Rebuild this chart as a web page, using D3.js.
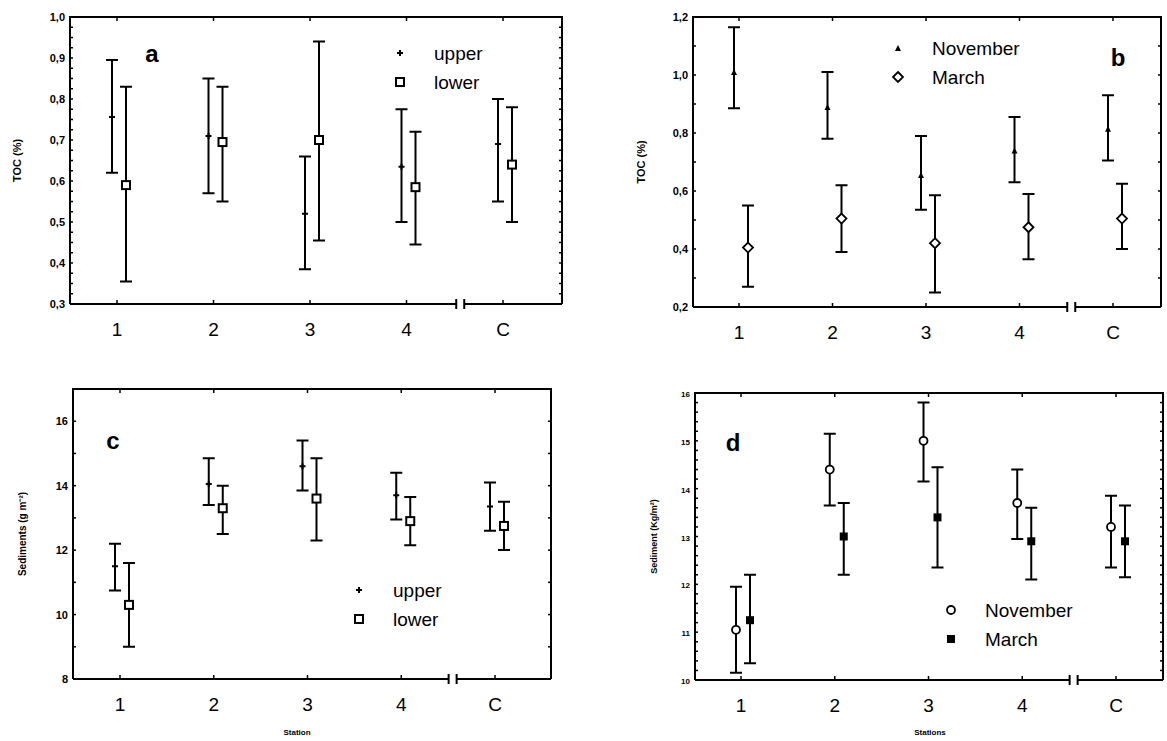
<!DOCTYPE html>
<html>
<head>
<meta charset="utf-8">
<script src="https://cdn.jsdelivr.net/npm/d3@7"></script>
<style>
  body { margin: 0; background: #fff; }
  svg { font-family: Arial, "Liberation Sans", sans-serif; }
</style>
</head>
<body>
<svg id="chart" width="1167" height="741"></svg>
<script>
const stations = ['1', '2', '3', '4', 'C'];

// panel a: TOC, upper vs lower layer
const tocUpper = [0.756, 0.71, 0.52, 0.635, 0.69];
const tocUpperHi = [0.895, 0.85, 0.66, 0.775, 0.80];
const tocUpperLo = [0.62, 0.57, 0.385, 0.50, 0.55];
const tocLower = [0.59, 0.695, 0.70, 0.585, 0.64];
const tocLowerHi = [0.83, 0.83, 0.94, 0.72, 0.78];
const tocLowerLo = [0.355, 0.55, 0.455, 0.445, 0.50];

// panel b: TOC, November vs March
const tocNov = [1.01, 0.89, 0.655, 0.74, 0.815];
const tocNovHi = [1.165, 1.01, 0.79, 0.855, 0.93];
const tocNovLo = [0.885, 0.78, 0.535, 0.63, 0.705];
const tocMar = [0.405, 0.505, 0.42, 0.475, 0.505];
const tocMarHi = [0.55, 0.62, 0.585, 0.59, 0.625];
const tocMarLo = [0.27, 0.39, 0.25, 0.365, 0.40];

// panel c: sediment, upper vs lower
const sedUpper = [11.5, 14.05, 14.6, 13.7, 13.35];
const sedUpperHi = [12.2, 14.85, 15.4, 14.4, 14.1];
const sedUpperLo = [10.75, 13.4, 13.85, 12.95, 12.6];
const sedLower = [10.3, 13.3, 13.6, 12.9, 12.75];
const sedLowerHi = [11.6, 14.0, 14.85, 13.65, 13.5];
const sedLowerLo = [9.0, 12.5, 12.3, 12.15, 12.0];

// panel d: sediment, November vs March
const sedNov = [11.05, 14.4, 15.0, 13.7, 13.2];
const sedNovHi = [11.95, 15.15, 15.8, 14.4, 13.85];
const sedNovLo = [10.15, 13.65, 14.15, 12.95, 12.35];
const sedMar = [11.25, 13.0, 13.4, 12.9, 12.9];
const sedMarHi = [12.2, 13.7, 14.45, 13.6, 13.65];
const sedMarLo = [10.35, 12.2, 12.35, 12.1, 12.15];

const tocTicks = [0.3, 0.4, 0.5, 0.6, 0.7, 0.8, 0.9, 1.0];
const tocTicksB = [0.2, 0.4, 0.6, 0.8, 1.0, 1.2];
const sedTicks = [8, 10, 12, 14, 16];
const sedTicksD = [10, 11, 12, 13, 14, 15, 16];

const svg = d3.select('#chart');
const comma = d => d3.format('.1f')(d).replace('.', ',');

function drawPanel(p) {
    const g = svg.append('g');
    const x = d3.scalePoint().domain(stations).range([p.x1 + p.pad, p.x2 - p.padR]);
    const y = d3.scaleLinear().domain(p.domain).range([p.y2, p.y1]);
    const brk = (x('4') + x('C')) / 2 + p.brkShift;

    // frame (top, left, right) and broken bottom axis
    g.append('path')
        .attr('d', `M${p.x1},${p.y2}V${p.y1}H${p.x2}V${p.y2}`)
        .attr('fill', 'none').attr('stroke', '#000').attr('stroke-width', 2);
    g.append('path')
        .attr('d', `M${p.x1},${p.y2}H${brk - 4}M${brk + 4},${p.y2}H${p.x2}M${brk - 4},${p.y2 - 5}V${p.y2 + 5}M${brk + 4},${p.y2 - 5}V${p.y2 + 5}`)
        .attr('fill', 'none').attr('stroke', '#000').attr('stroke-width', 2);

    // y ticks, inward on both sides
    const minor = d3.range(p.domain[0], p.domain[1] + 1e-9, p.minor);
    minor.forEach(v => {
        g.append('line').attr('x1', p.x1).attr('x2', p.x1 + 3).attr('y1', y(v)).attr('y2', y(v)).attr('stroke', '#000').attr('stroke-width', 1.5);
        g.append('line').attr('x1', p.x2).attr('x2', p.x2 - 3).attr('y1', y(v)).attr('y2', y(v)).attr('stroke', '#000').attr('stroke-width', 1.5);
    });
    p.ticks.forEach(v => {
        g.append('text').attr('x', p.x1 - 5).attr('y', y(v) + 4)
            .attr('text-anchor', 'end').attr('font-size', p.tickFont).attr('font-weight', 'bold')
            .text(p.fmt(v));
    });

    // x ticks and labels
    stations.forEach(s => {
        g.append('line').attr('x1', x(s)).attr('x2', x(s)).attr('y1', p.y2).attr('y2', p.y2 - 4).attr('stroke', '#000').attr('stroke-width', 1.5);
        g.append('line').attr('x1', x(s)).attr('x2', x(s)).attr('y1', p.y1).attr('y2', p.y1 + 4).attr('stroke', '#000').attr('stroke-width', 1.5);
        g.append('text').attr('x', x(s)).attr('y', p.y2 + 32).attr('text-anchor', 'middle')
            .attr('font-size', 19).text(s);
    });

    // y axis title
    g.append('text')
        .attr('transform', `translate(${p.titleX},${(p.y1 + p.y2) / 2}) rotate(-90)`)
        .attr('text-anchor', 'middle').attr('font-size', p.titleFont).attr('font-weight', 'bold')
        .text(p.yTitle);
    if (p.xTitle) {
        g.append('text').attr('x', p.xTitleX).attr('y', 735).attr('text-anchor', 'middle')
            .attr('font-size', 8).attr('font-weight', 'bold').text(p.xTitle);
    }

    // panel letter
    g.append('text').attr('x', p.letterX).attr('y', p.letterY).attr('font-size', 24)
        .attr('font-weight', 'bold').attr('text-anchor', 'middle').text(p.letter);

    // series
    p.series.forEach((sr, k) => {
        const off = k === 0 ? -5 : 9;
        stations.forEach((s, i) => {
            const cx = x(s) + off;
            g.append('path')
                .attr('d', `M${cx},${y(sr.hi[i])}V${y(sr.lo[i])}M${cx - 6},${y(sr.hi[i])}h12M${cx - 6},${y(sr.lo[i])}h12`)
                .attr('stroke', '#000').attr('stroke-width', 2).attr('fill', 'none');
            marker(g, sr.marker, cx, y(sr.mean[i]));
        });
        // legend
        const ly = p.legY + k * 29;
        marker(g, sr.marker, p.legX, ly);
        g.append('text').attr('x', p.legX + 34).attr('y', ly + 7).attr('font-size', 19).text(sr.name);
    });
}

function marker(g, type, cx, cy) {
    if (type === 'plus') {
        g.append('path').attr('d', `M${cx - 3},${cy}h6M${cx},${cy - 3}v6`).attr('stroke', '#000').attr('stroke-width', 2);
    } else if (type === 'square') {
        g.append('rect').attr('x', cx - 4).attr('y', cy - 4).attr('width', 8).attr('height', 8)
            .attr('fill', '#fff').attr('stroke', '#000').attr('stroke-width', 2);
    } else if (type === 'fsquare') {
        g.append('rect').attr('x', cx - 4).attr('y', cy - 4).attr('width', 8).attr('height', 8).attr('fill', '#000');
    } else if (type === 'tri') {
        g.append('path').attr('d', `M${cx},${cy - 3}L${cx + 3},${cy + 3}L${cx - 3},${cy + 3}Z`).attr('fill', '#000');
    } else if (type === 'diamond') {
        g.append('path').attr('d', `M${cx},${cy - 5}L${cx + 5},${cy}L${cx},${cy + 5}L${cx - 5},${cy}Z`)
            .attr('fill', '#fff').attr('stroke', '#000').attr('stroke-width', 1.8);
    } else if (type === 'circle') {
        g.append('circle').attr('cx', cx).attr('cy', cy).attr('r', 4)
            .attr('fill', '#fff').attr('stroke', '#000').attr('stroke-width', 1.8);
    }
}

drawPanel({
    x1: 70, x2: 562, y1: 17, y2: 304, pad: 47, padR: 59, brkShift: 5.5,
    domain: [0.3, 1.0], minor: 0.025, ticks: tocTicks, fmt: comma, tickFont: 11,
    yTitle: 'TOC (%)', titleX: 21, titleFont: 11, letter: 'a', letterX: 152, letterY: 62,
    legX: 400, legY: 53,
    series: [
        { name: 'upper', marker: 'plus', mean: tocUpper, hi: tocUpperHi, lo: tocUpperLo },
        { name: 'lower', marker: 'square', mean: tocLower, hi: tocLowerHi, lo: tocLowerLo }
    ]
});
drawPanel({
    x1: 693, x2: 1161, y1: 17, y2: 307, pad: 46, padR: 48, brkShift: 5,
    domain: [0.2, 1.2], minor: 0.1, ticks: tocTicksB, fmt: comma, tickFont: 11,
    yTitle: 'TOC (%)', titleX: 645, titleFont: 11, letter: 'b', letterX: 1118, letterY: 66,
    legX: 898, legY: 48,
    series: [
        { name: 'November', marker: 'tri', mean: tocNov, hi: tocNovHi, lo: tocNovLo },
        { name: 'March', marker: 'diamond', mean: tocMar, hi: tocMarHi, lo: tocMarLo }
    ]
});
drawPanel({
    x1: 73, x2: 551, y1: 389, y2: 679, pad: 47, padR: 56, brkShift: 4.5,
    domain: [8, 17], minor: 1, ticks: sedTicks, fmt: d => d, tickFont: 11,
    yTitle: 'Sediments (g m\u207B\u00B2)', titleX: 26, titleFont: 10, letter: 'c', letterX: 113, letterY: 449,
    legX: 359, legY: 590,
    series: [
        { name: 'upper', marker: 'plus', mean: sedUpper, hi: sedUpperHi, lo: sedUpperLo },
        { name: 'lower', marker: 'square', mean: sedLower, hi: sedLowerHi, lo: sedLowerLo }
    ],
    xTitle: 'Station', xTitleX: 297
});
drawPanel({
    x1: 695, x2: 1163, y1: 393, y2: 680, pad: 46, padR: 47, brkShift: 4.5,
    domain: [10, 16], minor: 0.2, ticks: sedTicksD, fmt: d => d, tickFont: 8,
    yTitle: 'Sediment (Kg/m\u00B2)', titleX: 657, titleFont: 9, letter: 'd', letterX: 733, letterY: 451,
    legX: 951, legY: 610,
    series: [
        { name: 'November', marker: 'circle', mean: sedNov, hi: sedNovHi, lo: sedNovLo },
        { name: 'March', marker: 'fsquare', mean: sedMar, hi: sedMarHi, lo: sedMarLo }
    ],
    xTitle: 'Stations', xTitleX: 930
});
</script>
</body>
</html>
